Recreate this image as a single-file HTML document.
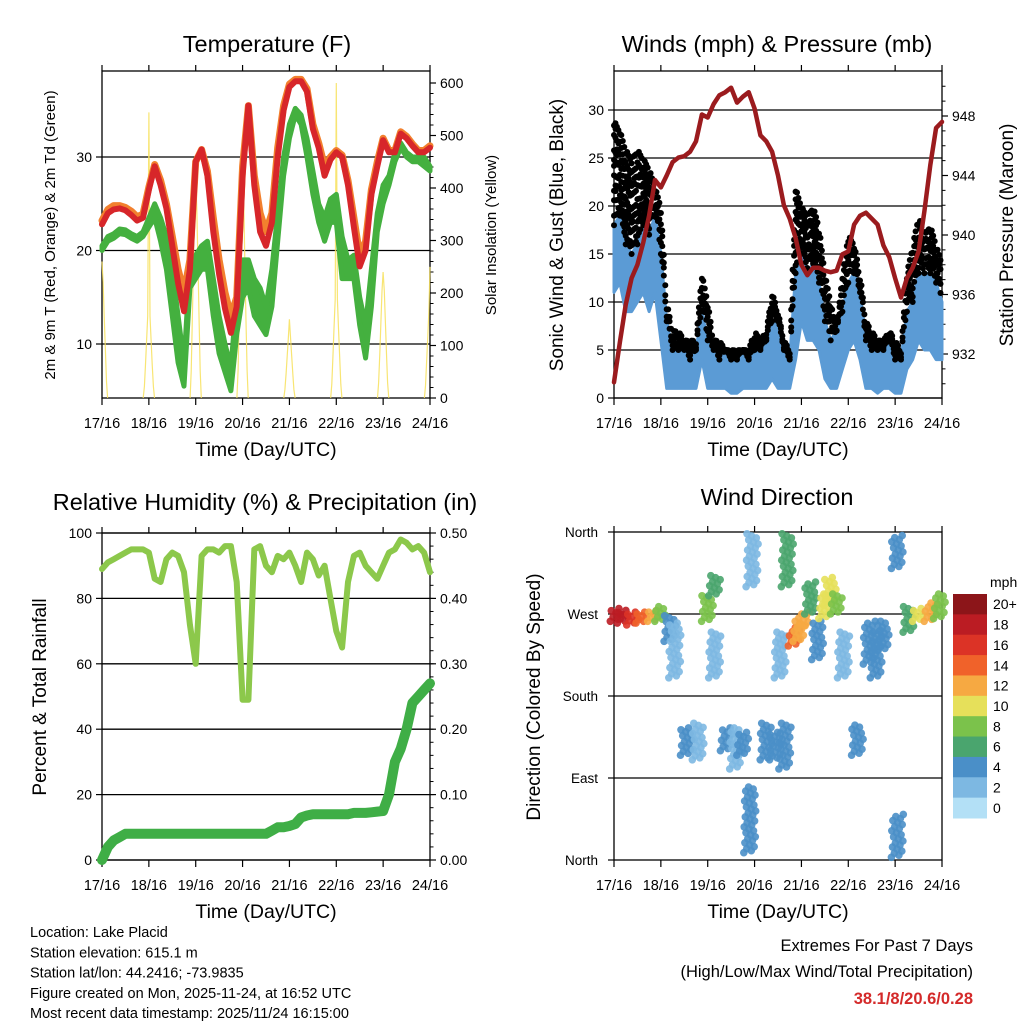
<!DOCTYPE html>
<html><head><meta charset="utf-8"><style>
html,body{margin:0;padding:0;background:#fff}
svg{display:block;font-family:"Liberation Sans",sans-serif}
</style></head><body>
<svg id="c" width="1024" height="1024" viewBox="0 0 1024 1024" xmlns="http://www.w3.org/2000/svg"></svg>
<script>
// ---------------- DATA (3-hourly, days 0..7) ----------------
const xLabels=["17/16","18/16","19/16","20/16","21/16","22/16","23/16","24/16"];
const tempRed=[22.8,24.0,24.4,24.5,24.3,23.8,23.2,23.5,26.5,29.0,27,24.5,20.5,16.5,13.5,18,29.5,30.8,28,22,17.5,13.8,11.2,14,28,35.5,27,22,20.5,23,30,35,37.5,38.1,38.1,37,33,31,28,29.7,30.5,30,27,22.5,18.3,20,26,29,31.8,30.5,30.5,32.5,32,31.2,30.5,30.5,31];
const tempOrange=[23.2,24.4,24.8,24.8,24.6,24.2,23.6,23.9,26.8,29.2,27.5,25,21.5,18,15.5,19,29.5,30.8,28.5,23.5,19,15.5,13,15,29,35.5,28,24,22,24,31,35.5,37.8,38.3,38.3,37.3,33.5,31.5,29,30,30.7,30.2,27.5,23.5,19.5,21,26.5,29.5,32,30.7,30.7,32.7,32.2,31.4,30.7,30.7,31.2];
const tempGreen=[20.5,21.5,21.8,22.3,22.2,21.8,21.5,22,23.5,25,23.5,21.5,18,13,8,18.5,19.5,20.5,21,17,13,10,7.5,15,19,19,17,16,14,18,24,30,33.5,35.2,34.5,32,28.5,25,23.5,25.5,26,21.5,19,19.5,15,12,18,24,27,28,30.5,31.5,30.5,30,30,30,29];
const tempGreenLow=[20,21,21.3,21.8,21.7,21.3,21,21.5,22.5,23.5,21,18,13,8,5.5,16,17,18,18,13,9,7,5,11,15,16,13,12,11,14,21,28,32,34.5,33.5,30,26,23,21,23,23,17,17,17,12,8.5,14,22,25,27,29.5,31,30,29.5,29.5,29,28.5];
const solarBulk=[260,183,424,443,133,221,240,196];
const solarSpike=[260,544,424,443,150,600,240,250];
const pressure=[930.1,932.8,935.3,937.1,938,939.5,941.3,943.7,943.2,944,944.9,945.2,945.3,945.6,946.3,948.1,947.9,948.8,949.4,949.6,949.9,948.9,949.3,949.6,948.5,946.7,946.3,945.6,944,942,941.1,939.8,938,937.3,937.8,937.8,937.6,937.5,937.6,938.7,938.9,940.7,941.3,941.5,941.1,940.7,939.3,938.5,937.1,935.8,937.1,937.8,938.9,941.6,944.7,947.2,947.6];
const windHi=[18,19,16,15,16,18,17,19,15,8,5,5,5,4,5,9,6,5,4,5,4,4,5,4,5,5,6,8,8,5,4,13,15,13,14,12,8,6,7,9,12,13,11,6,5,5,5,6,4,4,9,10,13,13,13,12,10];
const windLo=[11,12,9,9,10,11,9,11,6,1,1,1,1,1,1,4,1,1,1,1,0.5,0.5,1,1,1,1,1,2,1,1,1,4,8,6,6,5,2,1,1,3,5,6,4,1,1,0.5,1,1,0.5,0.5,3,4,6,5,5,4,4];
const gustHi=[29,28,26,25,26,25,24,22,20,10,7,7,6,6,6,13,10,6,6,5,5,5,5,5,7,6,7,11,9,6,5,22,20,19,20,18,13,10,7,13,17,16,13,8,7,6,6,7,6,5,13,16,19,17,18,16,14];
const rh=[89,91,92,93,94,95,95,95,94,86,85,92,94,93,88,72,60,93,95,95,94,96,96,85,49,49,95,96,90,88,93,92,94,90,85,94,92,87,90,80,70,65,85,93,94,90,88,86,90,94,95,98,97,95,96,94,88];
const precip=[0,0.02,0.03,0.035,0.04,0.04,0.04,0.04,0.04,0.04,0.04,0.04,0.04,0.04,0.04,0.04,0.04,0.04,0.04,0.04,0.04,0.04,0.04,0.04,0.04,0.04,0.04,0.04,0.04,0.045,0.05,0.05,0.052,0.055,0.065,0.068,0.07,0.07,0.07,0.07,0.07,0.07,0.07,0.072,0.072,0.072,0.073,0.074,0.075,0.1,0.15,0.17,0.2,0.24,0.25,0.26,0.27];
// wind direction clusters
const dirT=[0.05,0.2,0.4,0.6,0.85,1.0,1.2,1.3,1.55,1.8,2.0,2.15,2.15,2.4,2.6,2.75,2.9,2.95,3.25,3.45,3.55,3.65,3.7,3.85,3.95,4.05,4.2,4.35,4.5,4.62,4.75,4.9,5.2,5.45,5.6,5.75,6.05,6.05,6.3,6.5,6.75,6.95];
const dirLo=[262,260,258,260,262,262,240,200,115,110,262,290,200,120,100,115,8,300,110,110,200,100,300,235,240,255,270,220,265,280,270,200,115,215,200,230,3,320,250,262,262,265];
const dirHi=[276,274,272,272,274,278,268,260,145,150,290,312,250,145,145,140,80,358,150,140,250,150,358,255,262,272,305,262,292,310,292,250,148,262,252,262,50,356,278,276,282,292];
const dirSpd=[18,17,16,14,11,8,4,2,4,2,7,6,1,4,2,4,4,1,3,4,2,4,5,14,11,12,6,3,10,9,7,2,4,4,4,3,4,4,6,10,12,7];
const cbLabels=["20+","18","16","14","12","10","8","6","4","2","0"];
const cbColors=["#8c1519","#bb1c23","#dc3326","#f0622a","#f6a942","#e6e05a","#7bc24b","#4aa56e","#4a8fc8","#7db8e2","#b3e0f6"];

// ---------------- HELPERS ----------------
const svg=document.getElementById('c');
const NS="http://www.w3.org/2000/svg";
function mk(tag,attrs,parent){const e=document.createElementNS(NS,tag);for(const k in attrs)e.setAttribute(k,attrs[k]);(parent||svg).appendChild(e);return e;}
function lin(d0,d1,r0,r1){return v=>r0+(v-d0)*(r1-r0)/(d1-d0);}
function txt(s,x,y,size,opts,parent){const e=mk('text',Object.assign({x:x,y:y,'font-size':size,fill:'#000'},opts||{}),parent);e.textContent=s;return e;}
const N=57;
function tday(i){return i/8;}

function frame(name,x0,x1,y0,y1){
  const g=mk('g',{});
  
  
  mk('rect',{x:x0,y:y0,width:x1-x0,height:y1-y0,fill:'none',stroke:'#000','stroke-width':1.3},g);
  const X=lin(0,7,x0,x1);
  for(let d=0;d<=7;d++){
    mk('line',{x1:X(d),x2:X(d),y1:y1,y2:y1+7,stroke:'#000','stroke-width':1.2},g);
    mk('line',{x1:X(d),x2:X(d),y1:y0,y2:y0-6,stroke:'#000','stroke-width':1.2},g);
    const t=txt(xLabels[d],X(d),y1+30,14.5,{'text-anchor':'middle'},g);
    
    
  }
  const xt=txt('Time (Day/UTC)',(x0+x1)/2,y1+58,19.5,{'text-anchor':'middle'},g);
  
  
  return {g,X};
}
function leftTicks(g,x0,x1,vals,Y,labels,grid){
  vals.forEach((v,i)=>{
    mk('line',{x1:x0-6,x2:x0,y1:Y(v),y2:Y(v),stroke:'#000','stroke-width':1.2},g);
    if(grid)mk('line',{x1:x0,x2:x1,y1:Y(v),y2:Y(v),stroke:'#000','stroke-width':1.3},g);
    const t=txt(labels[i],x0-10,Y(v)+5,14,{'text-anchor':'end'},g);
    
    
  });
}
function rightTicks(g,x1,vals,Y,labels,minorStep,lo,hi){
  for(let v=lo;v<=hi+1e-9;v+=minorStep){mk('line',{x1:x1,x2:x1+3.5,y1:Y(v),y2:Y(v),stroke:'#000','stroke-width':1},g);}
  vals.forEach((v,i)=>{
    mk('line',{x1:x1,x2:x1+6,y1:Y(v),y2:Y(v),stroke:'#000','stroke-width':1.2},g);
    const t=txt(labels[i],x1+10,Y(v)+5,14,{'text-anchor':'start'},g);
    
    
  });
}
function vlabel(s,x,y,size,name){const t=txt(s,x,y,size,{'text-anchor':'middle',transform:'rotate(-90 '+x+' '+y+')'});}
function title(s,x,y,name){const t=txt(s,x,y,23.5,{'text-anchor':'middle'});}
function poly(arr,X,Y,attrs,name,parent){
  const pts=arr.map((v,i)=>X(tday(i)).toFixed(1)+','+Y(v).toFixed(1)).join(' ');
  const p=mk('polyline',Object.assign({points:pts,fill:'none','stroke-linejoin':'round','stroke-linecap':'round'},attrs),parent);
  
  
  return p;
}

// ---------------- PANEL 1: TEMPERATURE ----------------
(function(){
  const x0=102,x1=430,y0=71,y1=398;
  const {g,X}=frame('temperature',x0,x1,y0,y1);
  const Y=lin(10,30,344,157);
  const S=lin(0,600,398,83);
  leftTicks(g,x0,x1,[10,20,30],Y,["10","20","30"],true);
  rightTicks(g,x1,[0,100,200,300,400,500,600],S,["0","100","200","300","400","500","600"],20,0,600);
  const prof=[0,0.12,0.35,0.6,0.85,1,0.85,0.6,0.35,0.12,0];
  solarBulk.forEach((pk,d)=>{
    const pts=[];
    prof.forEach((f,k)=>{
      const t=d-0.12+k*0.024;
      if(t<0||t>7)return;
      const val=(k===5?solarSpike[d]:pk*f);
      pts.push(X(t).toFixed(1)+','+S(val).toFixed(1));
    });
    const p=mk('polyline',{points:pts.join(' '),fill:'none',stroke:'#f7e05a','stroke-width':1.2,opacity:0.85});
    
    
  });
  const top=tempGreen.map((v,i)=>X(tday(i)).toFixed(1)+','+Y(v).toFixed(1));
  const bot=tempGreenLow.map((v,i)=>X(tday(i)).toFixed(1)+','+Y(v).toFixed(1)).reverse();
  const gb=mk('polygon',{points:top.concat(bot).join(' '),fill:'#44b03f',stroke:'#44b03f','stroke-width':5,'stroke-linejoin':'round'});
  
  
  poly(tempOrange,X,Y,{stroke:'#f2802e','stroke-width':7},'temp-9m-line');
  poly(tempRed,X,Y,{stroke:'#d7262a','stroke-width':6},'temp-2m-line');
  title('Temperature (F)',267,52,'temperature-title');
  vlabel('2m & 9m T (Red, Orange) & 2m Td (Green)',55,235,15,'temperature-y-title');
  vlabel('Solar Insolation (Yellow)',496,235,15,'solar-y-title');
})();

// ---------------- PANEL 2: WINDS ----------------
(function(){
  const x0=614,x1=942,y0=71,y1=398;
  const {g,X}=frame('winds',x0,x1,y0,y1);
  const Y=lin(0,30,398,110);
  const P=lin(932,948,354,116);
  leftTicks(g,x0,x1,[0,5,10,15,20,25,30],Y,["0","5","10","15","20","25","30"],true);
  rightTicks(g,x1,[932,936,940,944,948],P,["932","936","940","944","948"],1,930,950);
  const top=windHi.map((v,i)=>X(tday(i)).toFixed(1)+','+Y(v).toFixed(1));
  const bot=windLo.map((v,i)=>X(tday(i)).toFixed(1)+','+Y(v).toFixed(1)).reverse();
  const band=mk('polygon',{points:top.concat(bot).join(' '),fill:'#5b9bd5',stroke:'#5b9bd5','stroke-width':3,'stroke-linejoin':'round'});
  
  
  const gg=mk('g',{});
  
  
  for(let i=0;i<N-1;i++){
    for(let s=0;s<4;s++){
      const f=s/4;
      const hi=gustHi[i]+(gustHi[i+1]-gustHi[i])*f;
      const lo=windHi[i]+(windHi[i+1]-windHi[i])*f;
      const n=Math.max(2,Math.round((hi-lo)/1.2));
      for(let k=0;k<=n;k++){
        const v=lo+(hi-lo)*(((k*0.618+s*0.37)%1));
        const c=mk('circle',{cx:X(tday(i+f)).toFixed(1),cy:Y(v).toFixed(1),r:3,fill:'#000'},gg);
        
        
      }
    }
  }
  poly(pressure,X,P,{stroke:'#9b1b1e','stroke-width':4.5},'pressure-line');
  title('Winds (mph) & Pressure (mb)',777,52,'winds-title');
  vlabel('Sonic Wind & Gust (Blue, Black)',563,235,19,'wind-y-title');
  vlabel('Station Pressure (Maroon)',1013,235,19,'pressure-y-title');
})();

// ---------------- PANEL 3: RH & PRECIP ----------------
(function(){
  const x0=102,x1=430,y0=533,y1=860;
  const {g,X}=frame('humidity',x0,x1,y0,y1);
  const Y=lin(0,100,860,533);
  const R=lin(0,0.5,860,533);
  leftTicks(g,x0,x1,[0,20,40,60,80,100],Y,["0","20","40","60","80","100"],true);
  rightTicks(g,x1,[0,0.1,0.2,0.3,0.4,0.5],R,["0.00","0.10","0.20","0.30","0.40","0.50"],0.02,0,0.5);
  poly(rh,X,Y,{stroke:'#8cc84b','stroke-width':6},'relative-humidity-line');
  poly(precip,X,R,{stroke:'#3fae46','stroke-width':10},'precipitation-line');
  title('Relative Humidity (%) & Precipitation (in)',265,510,'humidity-title');
  vlabel('Percent & Total Rainfall',46,697,19,'humidity-y-title');
})();

// ---------------- PANEL 4: WIND DIRECTION ----------------
(function(){
  const x0=614,x1=942,y0=532,y1=860;
  const {g,X}=frame('wind-direction',x0,x1,y0,y1);
  const Y=lin(0,360,860,532);
  [90,180,270].forEach(v=>mk('line',{x1:x0,x2:x1,y1:Y(v),y2:Y(v),stroke:'#000','stroke-width':1.3},g));
  [[0,'North'],[90,'East'],[180,'South'],[270,'West'],[360,'North']].forEach(([v,s])=>{
    mk('line',{x1:x0-6,x2:x0,y1:Y(v),y2:Y(v),stroke:'#000','stroke-width':1.2},g);
    const t=txt(s,x0-16,Y(v)+5,13.5,{'text-anchor':'end'},g);
    
    
  });
  function col(sp){let b=Math.round(sp/2);if(b>10)b=10;if(b<0)b=0;return cbColors[10-b];}
  const pg=mk('g',{});
  
  
  dirT.forEach((t,i)=>{
    const span=dirHi[i]-dirLo[i];
    const n=Math.max(6,Math.round(span/2.2));
    for(let k=0;k<=n;k++){
      const d=dirLo[i]+span*k/n;
      const dt=(((k*0.618)%1)-0.5)*0.26;
      const c=mk('circle',{cx:X(t+dt).toFixed(1),cy:Y(d).toFixed(1),r:3.8,fill:col(dirSpd[i]),opacity:0.9},pg);
      
      
    }
  });
  title('Wind Direction',777,505,'direction-title');
  vlabel('Direction (Colored By Speed)',540,697,19,'direction-y-title');
  const cb=mk('g',{});
  
  
  const cy0=594,ch=224/11;
  cbColors.forEach((c,i)=>{
    const r=mk('rect',{x:953,y:cy0+i*ch,width:34,height:ch+0.5,fill:c},cb);
    
    
    const t=txt(cbLabels[i],993,cy0+i*ch+ch/2+5,14,{},cb);
    
    
  });
  const m=txt('mph',990,587,14,{},cb);
  
  
})();

// ---------------- FOOTER ----------------
const info=["Location: Lake Placid","Station elevation: 615.1 m","Station lat/lon: 44.2416; -73.9835","Figure created on Mon, 2025-11-24, at 16:52 UTC","Most recent data timestamp: 2025/11/24 16:15:00"];
info.forEach((s,i)=>{const t=txt(s,30,937+i*20.3,14.5);});
let e1=txt('Extremes For Past 7 Days',973,951,16.5,{'text-anchor':'end'});


let e2=txt('(High/Low/Max Wind/Total Precipitation)',973,977,16.5,{'text-anchor':'end'});


let e3=txt('38.1/8/20.6/0.28',973,1004,16.5,{'text-anchor':'end',fill:'#d42a2a','font-weight':'bold'});


</script>
</body></html>
